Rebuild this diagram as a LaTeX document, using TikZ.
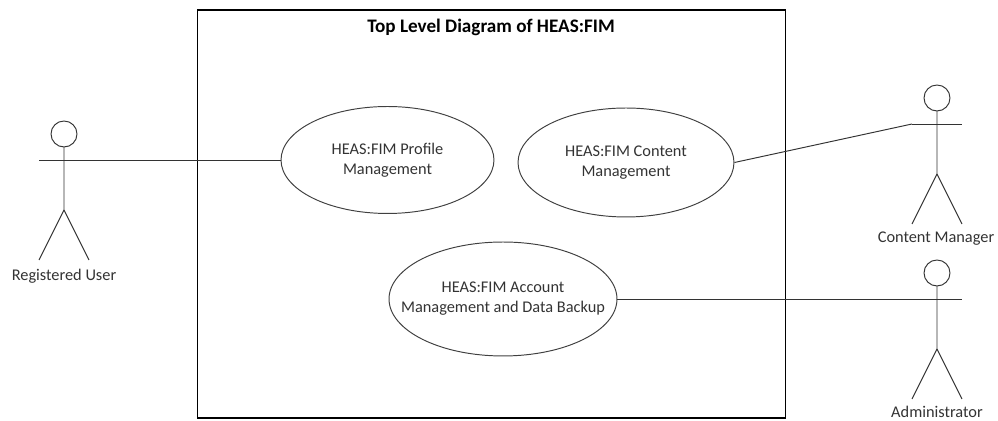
\documentclass[tikz,border=0pt]{standalone}
\usepackage{fontspec}
\setmainfont{Carlito}
\usetikzlibrary{shapes.geometric}
\tikzset{%
  usecase/.style={draw=black!75,ellipse,line width=0.55pt,inner sep=-1cm,align=center,font=\fontsize{9.3pt}{11.3pt}\selectfont,text=black!80},
  actorname/.style={font=\fontsize{9.3pt}{11pt}\selectfont,text=black!80,inner sep=0pt},
  link/.style={draw=black!80,line width=0.55pt},
  actor/.pic={%
    \draw[link] (0,-26) circle[radius=0.26cm];
    \draw[link] (0,-13) -- (0,50) -- (-25,100);
    \draw[link] (0,50) -- (25,100);
    \draw[link] (-25,0) coordinate (-left) -- (25,0) coordinate (-right);
  },
}
\begin{document}
\begin{tikzpicture}[x=0.02cm,y=-0.02cm]
  \useasboundingbox (0,0) rectangle (998,421);
  \node[draw,minimum width=11.77cm,minimum height=8.16cm,line width=0.65pt,inner sep=0pt] (system) at (491.7,214) {};
  \node[font=\fontsize{10.9pt}{13pt}\selectfont\bfseries,inner sep=0pt] (title) at (491,27) {Top Level Diagram of HEAS:FIM};
  \node[usecase,minimum width=4.26cm,minimum height=2.14cm] (profile) at (387.5,160) {HEAS:FIM Profile\\Management};
  \node[usecase,minimum width=4.32cm,minimum height=2.18cm] (content) at (626,162.5) {HEAS:FIM Content\\Management};
  \node[usecase,minimum width=4.56cm,minimum height=2.28cm] (account) at (503,299) {HEAS:FIM Account\\Management and Data Backup};
  \pic (user) at (64,160) {actor};
  \pic (manager) at (937,124) {actor};
  \pic (admin) at (937,299) {actor};
  \node[actorname] (usertext) at (64,276) {Registered User};
  \node[actorname] (managertext) at (936,239) {Content Manager};
  \node[actorname] (admintext) at (937,411.5) {Administrator};
  \draw[link] (user-left) -- (profile.west);
  \draw[link] (content.east) -- (manager-left);
  \draw[link] (account.east) -- (admin-left);
\end{tikzpicture}
\end{document}
